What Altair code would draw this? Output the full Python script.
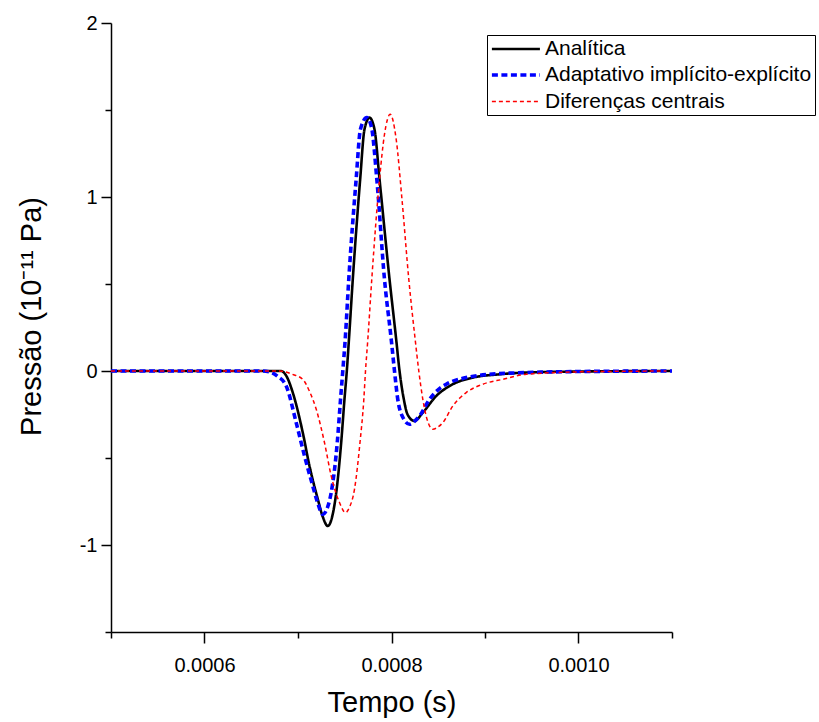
import altair as alt
import pandas as pd

names = ["Analítica", "Adaptativo implícito-explícito", "Diferenças centrais"]

t_ana = [0.0005, 0.0006695, 0.000682, 0.0006877, 0.0006944, 0.0007051, 0.0007123, 0.0007212,
         0.0007267, 0.0007319, 0.0007369, 0.0007409, 0.0007462, 0.0007497, 0.0007522, 0.0007545,
         0.0007586, 0.0007665, 0.0007711, 0.0007765, 0.0007818, 0.0007872, 0.0007979, 0.000805,
         0.0008086, 0.0008132, 0.0008171, 0.0008246, 0.0008335, 0.0008478, 0.0008656, 0.000887,
         0.0009155, 0.0009441, 0.001001, 0.0011]
p_ana = [0, 0, 0, -0.030, -0.124, -0.354, -0.546, -0.737,
         -0.841, -0.891, -0.829, -0.699, -0.411, -0.163, 0, 0.182,
         0.527, 1.102, 1.389, 1.456, 1.389, 1.102, 0.527, 0.182,
         0, -0.163, -0.249, -0.287, -0.239, -0.144, -0.076, -0.038,
         -0.019, -0.009, -0.003, 0]

t_ada = [0.0005, 0.000661, 0.0006695, 0.0006781, 0.0006874, 0.0006981, 0.000707, 0.0007158,
         0.0007209, 0.0007265, 0.0007316, 0.0007355, 0.000742, 0.0007455, 0.0007479, 0.0007505,
         0.0007543, 0.0007622, 0.0007668, 0.0007736, 0.0007786, 0.0007843, 0.0007925, 0.0007997,
         0.0008032, 0.0008067, 0.0008121, 0.0008193, 0.0008246, 0.0008299, 0.0008406, 0.0008492,
         0.0008585, 0.0008799, 0.0009048, 0.0009441, 0.001001, 0.0011]
p_ada = [0, 0, -0.005, -0.030, -0.086, -0.297, -0.489, -0.661,
         -0.755, -0.824, -0.783, -0.699, -0.411, -0.163, 0, 0.182,
         0.527, 1.102, 1.389, 1.456, 1.401, 1.102, 0.527, 0.182,
         0, -0.163, -0.266, -0.306, -0.289, -0.259, -0.163, -0.111,
         -0.076, -0.038, -0.019, -0.009, -0.003, 0]

t_dif = [0.0005, 0.0006749, 0.0006834, 0.0006941, 0.0007051, 0.0007123, 0.0007195, 0.0007283,
         0.0007355, 0.0007444, 0.0007508, 0.0007551, 0.0007604, 0.0007663, 0.0007704, 0.0007722,
         0.0007747, 0.0007789, 0.0007872, 0.0007925, 0.0007986, 0.000805, 0.0008112, 0.0008185,
         0.0008253, 0.0008292, 0.0008335, 0.0008371, 0.0008442, 0.0008492, 0.0008549, 0.0008656,
         0.0008799, 0.0008976, 0.000919, 0.0009441, 0.001001, 0.0010941]
p_dif = [0, 0, -0.002, -0.019, -0.048, -0.117, -0.220, -0.411,
         -0.603, -0.756, -0.814, -0.783, -0.680, -0.411, -0.163, 0,
         0.182, 0.527, 1.102, 1.360, 1.475, 1.332, 0.987, 0.527,
         0.182, 0, -0.163, -0.259, -0.335, -0.324, -0.297, -0.201,
         -0.124, -0.076, -0.048, -0.019, -0.005, 0]

x_ticks = [0.0005, 0.0006, 0.0007, 0.0008, 0.0009, 0.0010, 0.0011]
y_ticks = [-1.5, -1, -0.5, 0, 0.5, 1, 1.5, 2]

frames = []
for name, t, p in [(names[0], t_ana, p_ana), (names[1], t_ada, p_ada), (names[2], t_dif, p_dif)]:
    frames.append(pd.DataFrame({"t": t, "p": p, "serie": name}))
df = pd.concat(frames, ignore_index=True)

FONT = "Liberation Sans"

x_enc = alt.X("t:Q", scale=alt.Scale(domain=[0.0005, 0.0011], nice=False, zero=False),
              axis=alt.Axis(title="Tempo (s)", values=x_ticks, grid=False,
                            labelExpr="round(datum.value*10000) % 2 == 0 ? format(datum.value, '.4f') : ''",
                            tickSize={"condition": {"test": "round(datum.value*10000) % 2 == 0", "value": 11}, "value": 6},
                            labelPadding=12, titleY=56))
y_enc = alt.Y("p:Q", scale=alt.Scale(domain=[-1.5, 2], nice=False, zero=False),
              axis=alt.Axis(title="Pressão (10⁻¹¹ Pa)", values=y_ticks, grid=False,
                            labelExpr="datum.value % 1 == 0 ? '' + datum.value : ''",
                            tickSize={"condition": {"test": "datum.value % 1 == 0", "value": 10}, "value": 6},
                            labelPadding=4, titleX=-65, titleY=293))

color = alt.Color("serie:N", scale=alt.Scale(domain=names, range=["#000000", "#0000ff", "#ff0000"]),
                  legend=alt.Legend(title=None, orient="none", legendX=376, legendY=12,
                                    strokeColor="black", fillColor="white", padding=3,
                                    symbolType="M-1,0H4", symbolSize=369, labelOffset=32,
                                    rowPadding=4.5, labelFontSize=21, labelFont=FONT,
                                    labelColor="black", labelLimit=400))
dash = alt.StrokeDash("serie:N", scale=alt.Scale(domain=names, range=[[1, 0], [6, 3.5], [4, 3]]), legend=None)
width = alt.StrokeWidth("serie:N", scale=alt.Scale(type="ordinal", domain=names, range=[2.6, 3.6, 1.5]), legend=None)

layers = []
for name in names:
    layers.append(
        alt.Chart(df).transform_filter(alt.datum.serie == name)
        .mark_line(interpolate="monotone")
        .encode(x=x_enc, y=y_enc, color=color, strokeDash=dash, strokeWidth=width)
    )

chart = alt.layer(*layers).properties(
    width=561, height=609,
    padding={"left": 111, "top": 23, "right": 147, "bottom": 90},
    autosize=alt.AutoSizeParams(type="none"),
).configure_view(stroke=None).configure_axis(
    domainColor="black", domainWidth=1.5, tickColor="black", tickWidth=1.5,
    labelFont=FONT, labelFontSize=20, labelColor="black",
    titleFont=FONT, titleFontSize=29, titleFontWeight="normal", titleColor="black",
)

chart.save("out.html", embed_options={"renderer": "svg", "actions": False})
